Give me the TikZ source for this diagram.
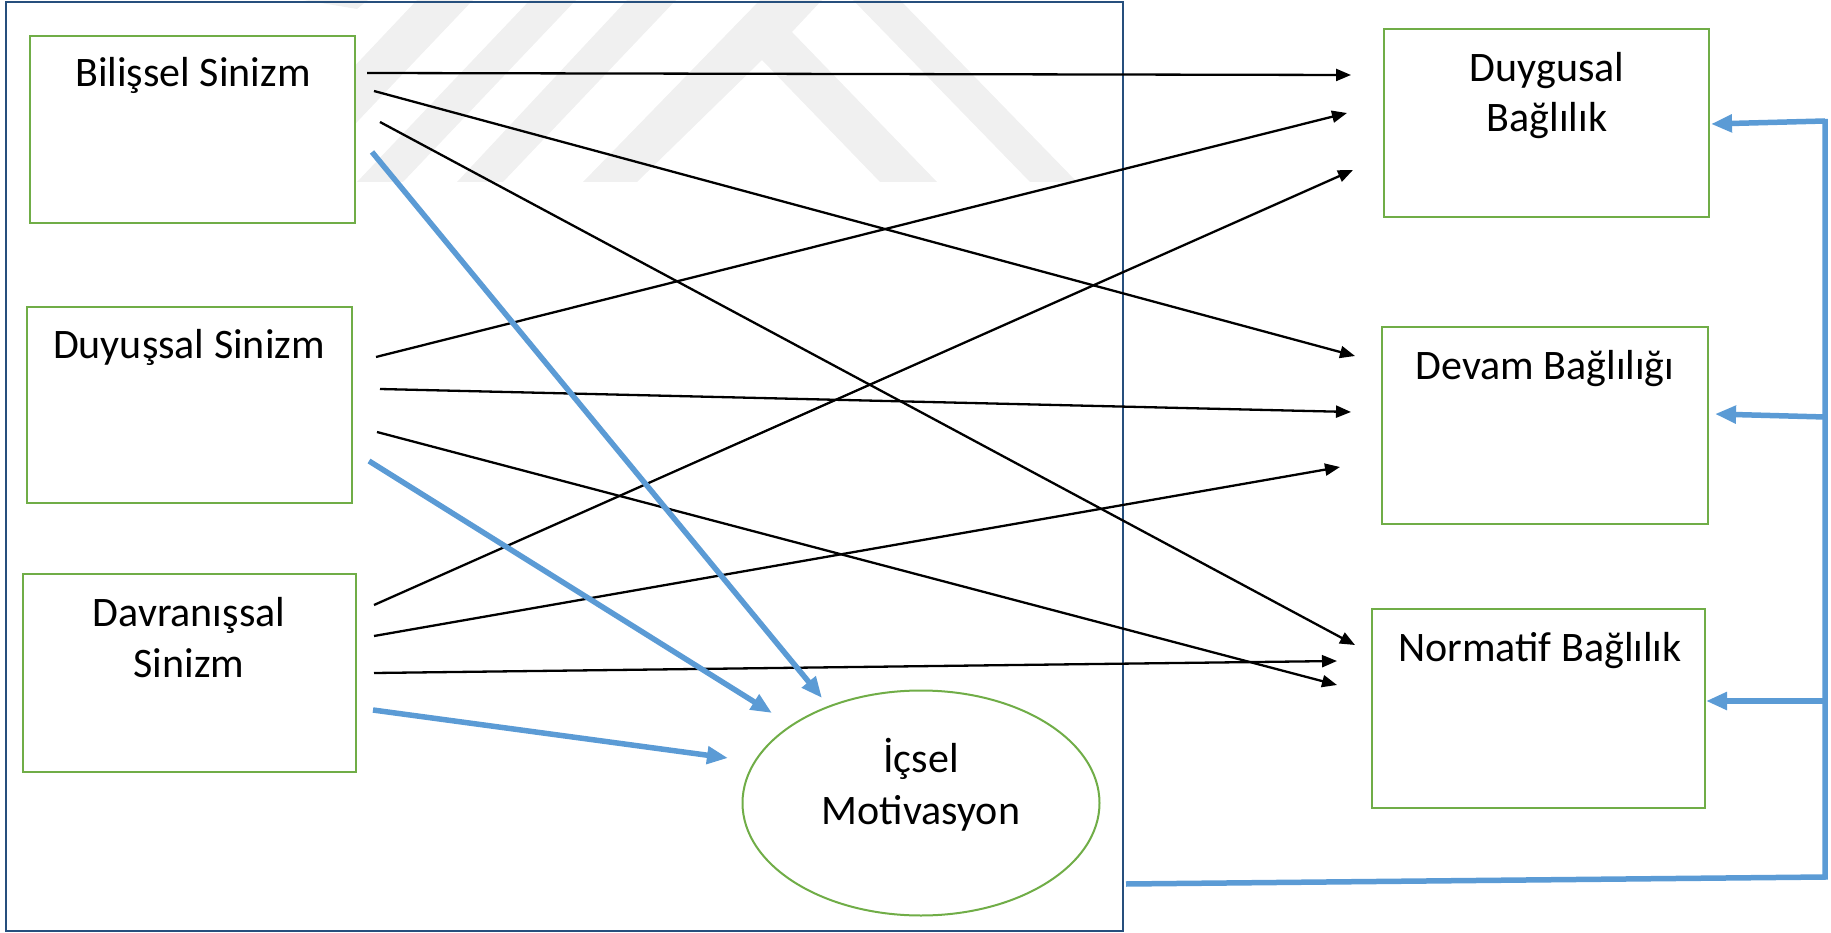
\documentclass[tikz,border=0pt]{standalone}
\usepackage{fontspec}
\setmainfont{Carlito}
\usetikzlibrary{arrows.meta,shapes.geometric}
\definecolor{boxgreen}{HTML}{70AD47}
\definecolor{linkblue}{HTML}{5B9BD5}
\definecolor{framenavy}{HTML}{264F7D}
\definecolor{markgray}{HTML}{F0F0F0}

\begin{document}
\begin{tikzpicture}[x=1pt,y=-1pt,
  box/.style={draw=boxgreen, line width=2.5pt, fill=white, rectangle, inner sep=0pt},
  oval/.style={draw=boxgreen, line width=2pt, fill=white, ellipse, inner sep=0pt},
  lbl/.style={font=\fontsize{42}{51}\selectfont, anchor=base, inner sep=0pt},
  link/.style={draw=black, line width=2.3pt, -{Triangle[length=15pt,width=12pt]}},
  feed/.style={draw=linkblue, line width=5.5pt, -{Triangle[length=21pt,width=17pt]}},
  loopline/.style={draw=linkblue, line width=5.5pt, line join=miter}
]
\useasboundingbox (0,0) rectangle (1831,933);

% background watermark stripes
\fill[markgray] (303,0) -- (368,0) -- (357,9) -- cycle;
\fill[markgray] (245,182) -- (300,182) -- (473,0) -- (417,0) -- cycle;
\fill[markgray] (357,182) -- (403,182) -- (576,0) -- (530,0) -- cycle;
\fill[markgray] (457,182) -- (503,182) -- (676,0) -- (627,0) -- cycle;
\fill[markgray] (583,182) -- (760,0) -- (822,0) -- (792,32) -- (937,182)
  -- (880,182) -- (762,60) -- (637,182) -- cycle;
\fill[markgray] (853,0) -- (900,0) -- (1077,182) -- (1030,182) -- cycle;

% outer frame around the cynicism block
\node[draw=framenavy, line width=2.8pt, minimum width=1117pt, minimum height=929pt,
  inner sep=0pt] (frame) at (564.5,466.5) {};

% cynicism dimensions
\node[box, minimum width=325pt, minimum height=187pt] (bil) at (192.5,129.5) {};
\node[box, minimum width=325pt, minimum height=196pt] (duy) at (189.5,405) {};
\node[box, minimum width=333pt, minimum height=198pt] (dav) at (189.5,673) {};

% commitment dimensions
\node[box, minimum width=325pt, minimum height=188pt] (dgs) at (1546.5,123) {};
\node[box, minimum width=326pt, minimum height=197pt] (dvm) at (1545,425.5) {};
\node[box, minimum width=333pt, minimum height=199pt] (nrm) at (1538.5,708.5) {};

% intrinsic motivation
\node[oval, minimum width=357pt, minimum height=225pt] (mot) at (921,803) {};

% labels
\node[lbl] (tbil) at (193,87) {Bilişsel Sinizm};
\node[lbl] (tduy) at (189,358) {Duyuşsal Sinizm};
\node[lbl] (tdav1) at (189,626) {Davranışsal};
\node[lbl] (tdav2) at (189,677) {Sinizm};
\node[lbl] (tdgs1) at (1547,82) {Duygusal};
\node[lbl] (tdgs2) at (1547,132) {Bağlılık};
\node[lbl] (tdvm) at (1545,379) {Devam Bağlılığı};
\node[lbl] (tnrm) at (1540,661) {Normatif Bağlılık};
\node[lbl] (tmot1) at (921,772) {İçsel};
\node[lbl] (tmot2) at (921,824) {Motivasyon};

% connector end points
\coordinate (b1) at (367,73);   \coordinate (g1) at (1351,75);
\coordinate (b2) at (374,91);   \coordinate (v1) at (1355,356);
\coordinate (b3) at (380,122);  \coordinate (n1) at (1355,645);
\coordinate (d1) at (376,357);  \coordinate (g2) at (1347,113);
\coordinate (d2) at (380,389);  \coordinate (v2) at (1351,412);
\coordinate (d3) at (377,432);  \coordinate (n2) at (1337,685);
\coordinate (a1) at (374,605);  \coordinate (g3) at (1353,170);
\coordinate (a2) at (374,636);  \coordinate (v3) at (1340,467);
\coordinate (a3) at (374,673);  \coordinate (n3) at (1337,661);

\coordinate (bm) at (372,152);  \coordinate (mb) at (822,698);
\coordinate (dm) at (369,461);  \coordinate (md) at (772,713);
\coordinate (am) at (373,710);  \coordinate (ma) at (728,758);

\coordinate (fout) at (1126,884);
\coordinate (fcor) at (1825,877);
\coordinate (ftop) at (1825,119);
\coordinate (f1) at (1825,121);  \coordinate (h1) at (1711,124);
\coordinate (f2) at (1825,417);  \coordinate (h2) at (1715,414);
\coordinate (f3) at (1825,701);  \coordinate (h3) at (1706,701);

% cynicism -> commitment
\draw[link] (b1) -- (g1);
\draw[link] (b2) -- (v1);
\draw[link] (b3) -- (n1);
\draw[link] (d1) -- (g2);
\draw[link] (d2) -- (v2);
\draw[link] (d3) -- (n2);
\draw[link] (a1) -- (g3);
\draw[link] (a2) -- (v3);
\draw[link] (a3) -- (n3);

% cynicism -> intrinsic motivation
\draw[feed] (bm) -- (mb);
\draw[feed] (dm) -- (md);
\draw[feed] (am) -- (ma);

% framed block -> each commitment dimension
\draw[loopline] (fout) -- (fcor) -- (ftop);
\draw[feed] (f1) -- (h1);
\draw[feed] (f2) -- (h2);
\draw[feed] (f3) -- (h3);
\end{tikzpicture}
\end{document}
